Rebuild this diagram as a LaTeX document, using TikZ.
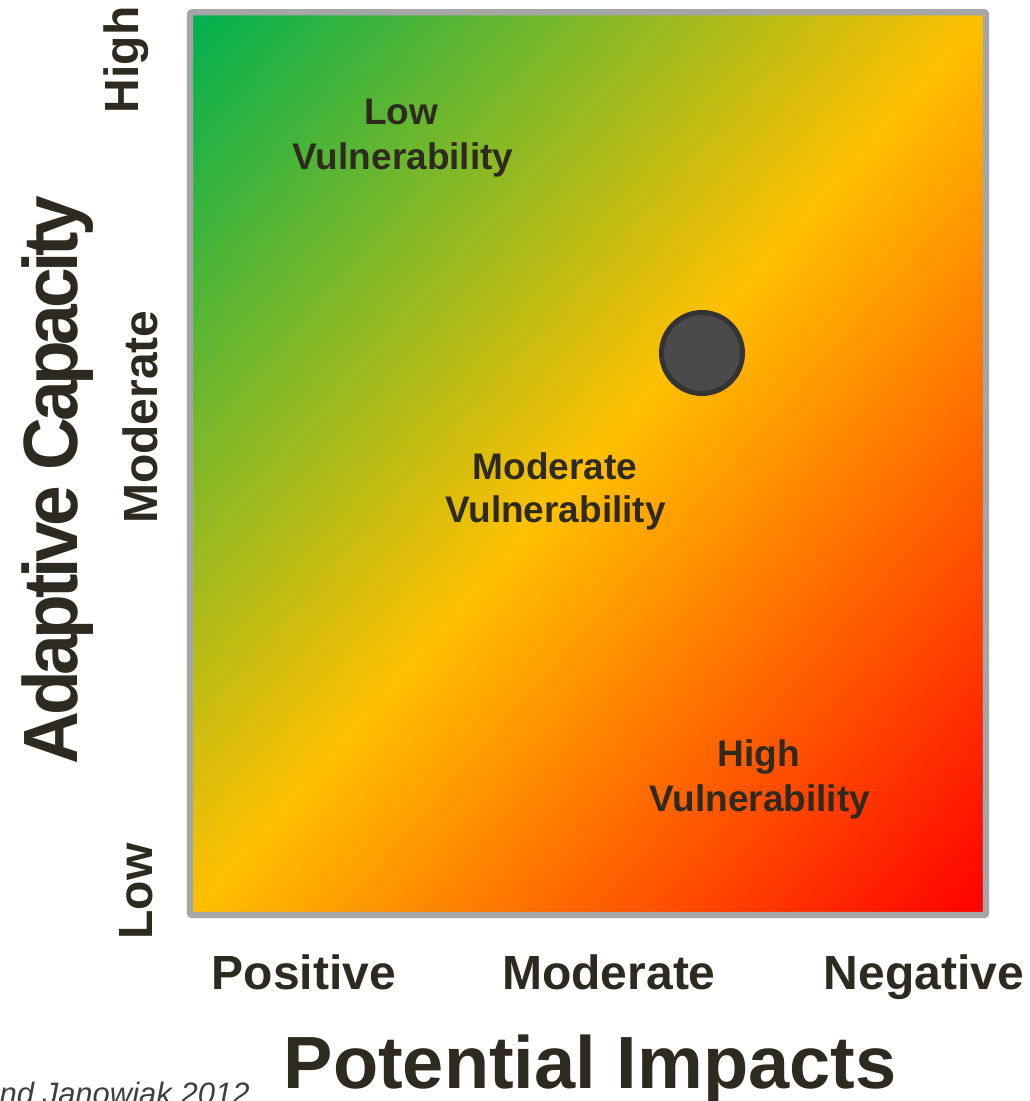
\documentclass[tikz,border=0pt]{standalone}
\usepackage{fontspec}
\setmainfont{Liberation Sans}
\newfontfamily\condfont[LetterSpace=-6]{Liberation Sans}
\definecolor{txtcol}{HTML}{2F2A20}
\definecolor{cgreen}{RGB}{0,176,80}
\definecolor{cyellow}{RGB}{255,192,0}
\definecolor{cred}{RGB}{255,0,0}
\definecolor{framegray}{HTML}{A6A6A6}
\definecolor{dotfill}{HTML}{4A4A4A}
\definecolor{dotline}{HTML}{333333}
\definecolor{citecol}{HTML}{3F3F3F}
\begin{document}
\begin{tikzpicture}[x=0.5pt,y=-0.5pt,
  lbl/.style={inner sep=0pt, text=txtcol, anchor=base, font=\bfseries\fontsize{18.5}{22}\selectfont},
  tick/.style={inner sep=0pt, text=txtcol, anchor=base, font=\bfseries\fontsize{24}{28}\selectfont},
  vtick/.style={tick, rotate=90},
  axis/.style={inner sep=0pt, text=txtcol, anchor=base, font=\bfseries\fontsize{37}{42}\selectfont},
  vaxis/.style={inner sep=0pt, text=txtcol, anchor=base, rotate=90, font=\condfont\bfseries\fontsize{38.5}{44}\selectfont},
  dot/.style={circle, draw=dotline, fill=dotfill, line width=2.5pt, minimum size=40.5pt, inner sep=0pt},
  cite/.style={inner sep=0pt, text=citecol, anchor=base east, font=\itshape\fontsize{15.5}{18}\selectfont}]
\useasboundingbox (0,0) rectangle (1029,1101);
% gradient panel
\begin{scope}
  \clip (193,15) rectangle (983,912);
  \begin{scope}[transform canvas={shift={(588,463.5)}, rotate=-41.37}]
    \shade[left color=cgreen, right color=cred, middle color=cyellow]
      (-592.85,-1100) rectangle (592.85,1100);
  \end{scope}
\end{scope}
\draw[framegray, line width=3.15pt, rounded corners=1pt] (190,12.3) rectangle (986,915);
% marker
\node[dot] (marker) at (702,353) {};
% region labels
\node[lbl] (lowA) at (401,125) {Low};
\node[lbl] (lowB) at (403,169.3) {Vulnerability};
\node[lbl] (modA) at (555,479.3) {Moderate};
\node[lbl] (modB) at (555.5,522.7) {Vulnerability};
\node[lbl] (highA) at (758.5,766.7) {High};
\node[lbl] (highB) at (759.7,811.7) {Vulnerability};
% x ticks
\node[tick] (xpos) at (304,989) {Positive};
\node[tick] (xmod) at (609,989) {Moderate};
\node[tick] (xneg) at (924,989) {Negative};
% y ticks
\node[vtick] (yhigh) at (138,60) {High};
\node[vtick] (ymod) at (157,417) {Moderate};
\node[vtick] (ylow) at (152,891.5) {Low};
% axis titles
\node[axis] (xtitle) at (590,1088) {Potential Impacts};
\node[vaxis] (ytitle) at (77,480) {\scalebox{0.95}[1]{Adaptive Capacity}};
% citation
\node[cite] (citation) at (250,1104) {nd Janowiak 2012};
\end{tikzpicture}
\end{document}
